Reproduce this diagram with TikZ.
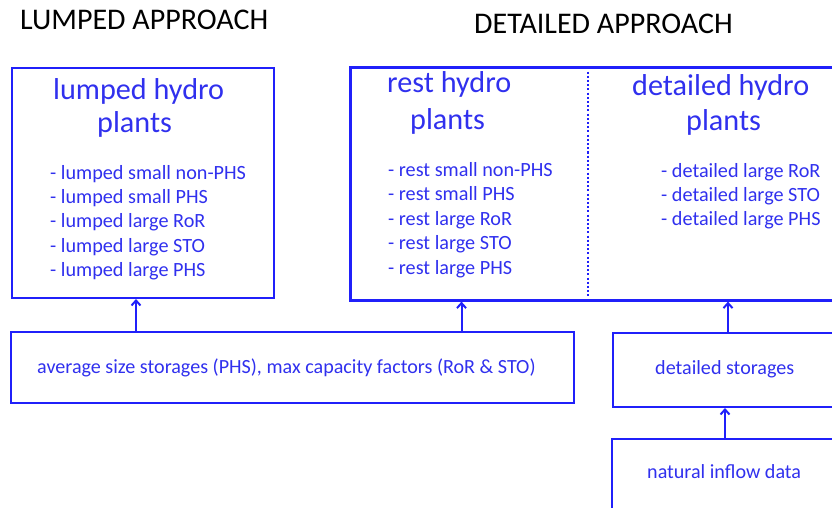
\documentclass[tikz,border=0pt]{standalone}
\usepackage{fontspec}
\setmainfont{Carlito}
\usetikzlibrary{arrows.meta}
\definecolor{lineblue}{RGB}{32,32,250}
\definecolor{textblue}{RGB}{48,48,238}
\begin{document}
\begin{tikzpicture}[x=1pt,y=-1pt,
  box/.style={draw=lineblue, line width=2pt, rectangle, inner sep=0pt, anchor=north west},
  approach/.style={text=black, font=\fontsize{30}{32}\selectfont, anchor=base west, inner sep=0pt},
  heading/.style={text=textblue, font=\fontsize{30.2}{32}\selectfont, anchor=base west, inner sep=0pt},
  item/.style={text=textblue, font=\fontsize{20.2}{24}\selectfont, anchor=base west, inner sep=0pt},
  boxtext/.style={text=textblue, font=\fontsize{20.1}{24}\selectfont, anchor=base west, inner sep=0pt},
  feed/.style={-{Straight Barb[length=5pt,width=9pt]}, draw=lineblue, line width=2pt}
]
\useasboundingbox (0,0) rectangle (832,508);
\clip (0,0) rectangle (832,508);

% section titles
\node[approach] (tlump) at (20,30) {LUMPED APPROACH};
\node[approach] (tdet) at (474,34) {DETAILED APPROACH};

% plant boxes
\node[box, minimum width=262.5pt, minimum height=229.5pt] (lumped) at (10.5,67.5) {};
\node[box, line width=2.6pt, minimum width=491pt, minimum height=233pt] (detailed) at (349,66) {};
\draw[lineblue, line width=2pt, dash pattern=on 2pt off 2.2pt] (588,67.5) -- (588,297.5);

% input boxes
\node[box, minimum width=563.5pt, minimum height=71pt] (avg) at (9.5,331) {};
\node[box, minimum width=228pt, minimum height=74pt] (dstor) at (612,332) {};
\node[box, minimum width=229pt, minimum height=90pt] (inflow) at (611,438) {};

% lumped plants
\node[heading] (lh1) at (53,99.5) {lumped hydro};
\node[heading] (lh2) at (97,132.5) {plants};
\node[item] (l1) at (50,179) {- lumped small non-PHS};
\node[item] (l2) at (50,203.4) {- lumped small PHS};
\node[item] (l3) at (50,227.8) {- lumped large RoR};
\node[item] (l4) at (50,252.2) {- lumped large STO};
\node[item] (l5) at (50,276.6) {- lumped large PHS};

% rest plants
\node[heading] (rh1) at (387,92.5) {rest hydro};
\node[heading] (rh2) at (410,129) {plants};
\node[item] (r1) at (388,176.5) {- rest small non-PHS};
\node[item] (r2) at (388,200.9) {- rest small PHS};
\node[item] (r3) at (388,225.3) {- rest large RoR};
\node[item] (r4) at (388,249.7) {- rest large STO};
\node[item] (r5) at (388,274.1) {- rest large PHS};

% detailed plants
\node[heading] (dh1) at (632,96) {detailed hydro};
\node[heading] (dh2) at (686,131) {plants};
\node[item] (d1) at (661,177) {- detailed large RoR};
\node[item] (d2) at (661,201.4) {- detailed large STO};
\node[item] (d3) at (661,225.8) {- detailed large PHS};

% input texts
\node[boxtext] (avgt) at (37,373.5) {average size storages (PHS), max capacity factors (RoR \& STO)};
\node[boxtext] (dstort) at (655,374.5) {detailed storages};
\node[boxtext] (inflowt) at (647,478.5) {natural inflow data};

% data flow
\draw[feed] ([xshift=126.5pt]avg.north west) -- ([xshift=126.5pt]avg.north west |- lumped.south);
\draw[feed] ([xshift=452pt]avg.north west) -- ([xshift=452pt]avg.north west |- detailed.south);
\draw[feed] ([xshift=116pt]dstor.north west) -- ([xshift=116pt]dstor.north west |- detailed.south);
\draw[feed] ([xshift=114pt]inflow.north west) -- ([xshift=114pt]inflow.north west |- dstor.south);
\end{tikzpicture}
\end{document}
